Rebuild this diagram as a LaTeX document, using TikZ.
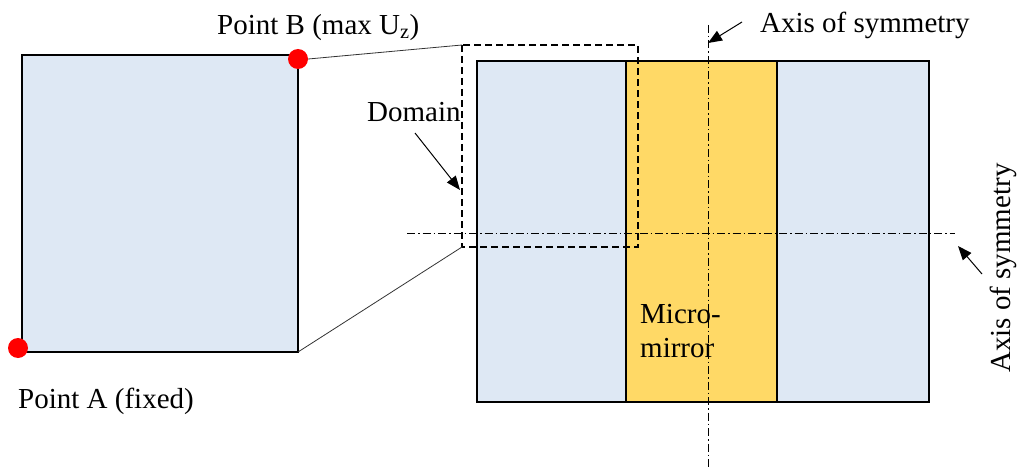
\documentclass[tikz,border=0pt]{standalone}
\usepackage{fontspec}
\setmainfont{Liberation Serif}
\usetikzlibrary{arrows.meta}
\definecolor{lblue}{HTML}{DEE8F4}
\definecolor{myellow}{HTML}{FFD966}
\definecolor{dotred}{HTML}{FF0000}
\begin{document}
\begin{tikzpicture}[x=1pt,y=-1pt,
  lbl/.style={font=\fontsize{29}{34}\selectfont, inner sep=0pt},
  boxline/.style={draw=black, line width=1.6pt},
  axisline/.style={draw=black, line width=0.7pt, dash pattern=on 8pt off 3pt on 1.5pt off 3pt},
  domainline/.style={draw=black, line width=1.6pt, dash pattern=on 7pt off 4pt},
  pointer/.style={draw=black, line width=1pt, -{Triangle[length=14pt,width=11pt]}},
  dot/.style={circle, fill=dotred, minimum size=20pt, inner sep=0pt}]
\useasboundingbox (0,0) rectangle (1020,468);
% left square
\path[boxline, fill=lblue] (22,55) rectangle (298,352);
% right rectangle
\path[boxline, fill=lblue] (477,61) rectangle (929,402);
\path[boxline, fill=myellow] (626,61) rectangle (777,402);
% axes
\coordinate (vt) at (708,25);
\coordinate (vb) at (708,468);
\coordinate (hl) at (407,233);
\coordinate (hr) at (955,233);
\path[axisline] (vt) -- (vb);
\path[axisline] (hl) -- (hr);
% domain box
\coordinate (dtl) at (462,45);
\coordinate (dbl) at (462,247);
\coordinate (dtr) at (638,45);
\coordinate (dbr) at (638,247);
\path[domainline] (dtl) rectangle (dbr);
% points
\node[dot] (B) at (298,59) {};
\node[dot] (A) at (18,348) {};
\coordinate (sqbr) at (298,352);
\draw[line width=0.8pt, draw=black!80] (B.east) -- (dtl);
\draw[line width=0.8pt, draw=black!80] (sqbr) -- (dbl);
% labels
\node[lbl, anchor=base west] (lB) at (217,35) {Point B (max U\textsubscript{z})};
\node[lbl, anchor=base west] (lA) at (18,408) {Point A (fixed)};
\node[lbl, anchor=base west] (ldom) at (367,122) {Domain};
\node[lbl, anchor=base west] (lax1) at (760,33) {Axis of symmetry};
\node[lbl, anchor=base west, rotate=90] (lax2) at (1010,373) {Axis of symmetry};
\node[lbl, anchor=base west] (lmm1) at (640,323) {Micro-};
\node[lbl, anchor=base west] (lmm2) at (640,357) {mirror};
% pointers
\coordinate (dp1) at (415,133);
\coordinate (dp2) at (460,190);
\draw[pointer] (dp1) -- (dp2);
\coordinate (ap1) at (742,22);
\coordinate (ap2) at (708,43);
\draw[pointer] (ap1) -- (ap2);
\coordinate (bp1) at (982,274);
\coordinate (bp2) at (958,246);
\draw[pointer] (bp1) -- (bp2);
\end{tikzpicture}
\end{document}
